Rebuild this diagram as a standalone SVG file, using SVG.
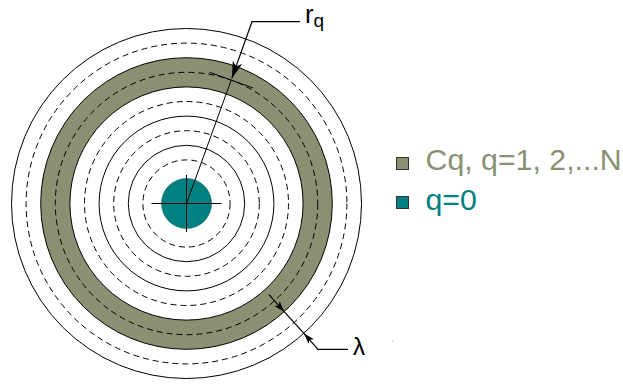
<svg xmlns="http://www.w3.org/2000/svg" width="623" height="387" viewBox="0 0 623 387">
<style>
.ring{fill:none;stroke:#000;stroke-width:1}
.dash{fill:none;stroke:#000;stroke-width:1;stroke-dasharray:6,4}
.ln{fill:none;stroke:#000;stroke-width:1.2}
.lbl{font-family:"Liberation Sans",Arial,sans-serif}
</style>
<defs>
<marker id="arrBig" markerUnits="userSpaceOnUse" markerWidth="20" markerHeight="14" viewBox="-18 -7 20 14" refX="0" refY="0" orient="auto">
<path d="M0,0 L-17,-5 L-13,0 L-17,5 Z" fill="#000"/>
</marker>
<marker id="arrSm" markerUnits="userSpaceOnUse" markerWidth="14" markerHeight="10" viewBox="-12 -5 14 10" refX="0" refY="0" orient="auto">
<path d="M0,0 L-11,-3.5 L-8.5,0 L-11,3.5 Z" fill="#000"/>
</marker>
</defs>
<rect width="623" height="387" fill="#fff"/>
<g id="rings">
<circle cx="186.5" cy="203.5" r="131.2" fill="none" stroke="#8a9173" stroke-width="29.2"/>
<circle class="ring" cx="186.5" cy="203.5" r="175"/>
<circle class="dash" cx="186.5" cy="203.5" r="160.4"/>
<circle class="ring" cx="186.5" cy="203.5" r="145.8"/>
<circle class="dash" cx="186.5" cy="203.5" r="131.2"/>
<circle class="ring" cx="186.5" cy="203.5" r="116.6"/>
<circle class="dash" cx="186.5" cy="203.5" r="102"/>
<circle class="ring" cx="186.5" cy="203.5" r="87.4"/>
<circle class="dash" cx="186.5" cy="203.5" r="72.8"/>
<circle class="ring" cx="186.5" cy="203.5" r="58.2"/>
<circle class="dash" cx="186.5" cy="203.5" r="43.6"/>
</g>
<g id="core">
<circle cx="186.5" cy="203.5" r="25" fill="#008080" stroke="#006262" stroke-width="0.6"/>
<line class="ring" x1="151.5" y1="203.5" x2="221.5" y2="203.5"/>
<line class="ring" x1="186.5" y1="175" x2="186.5" y2="232"/>
</g>
<g id="connectors">
<line class="ring" x1="186.5" y1="203.5" x2="231.2" y2="80.1"/>
<line class="ring" x1="209.6" y1="72.3" x2="252.8" y2="87.9"/>
<polyline class="ln" points="300,21.7 252,21.7 231.8,78.4" marker-end="url(#arrBig)"/>
<line class="ln" x1="269" y1="294.7" x2="284.4" y2="311.8" marker-end="url(#arrSm)"/>
<line class="ln" x1="284.4" y1="311.8" x2="303.9" y2="333.3"/>
<polyline class="ln" points="348,349.3 318,349.3 303.9,333.3" marker-end="url(#arrSm)"/>
</g>
<g id="label-rq">
<text class="lbl" x="305" y="23" font-size="25.5">r<tspan font-size="19" dy="3.5">q</tspan></text>
</g>
<g id="label-lambda">
<text class="lbl" x="353" y="355" font-size="24">λ</text>
</g>
<circle cx="392.5" cy="341" r="0.8" fill="#bbb"/>
<g id="legend-cq">
<rect x="396.5" y="157.5" width="12" height="12" fill="#8a9173" stroke="#333" stroke-width="1"/>
<text class="lbl" x="425.5" y="170" font-size="30.3" fill="#8a9173">Cq, q=1, 2,...N</text>
</g>
<g id="legend-q0">
<rect x="396.5" y="196.5" width="12" height="12" fill="#008080" stroke="#333" stroke-width="1"/>
<text class="lbl" x="425.5" y="210" font-size="30.3" fill="#008080">q=0</text>
</g>
</svg>
